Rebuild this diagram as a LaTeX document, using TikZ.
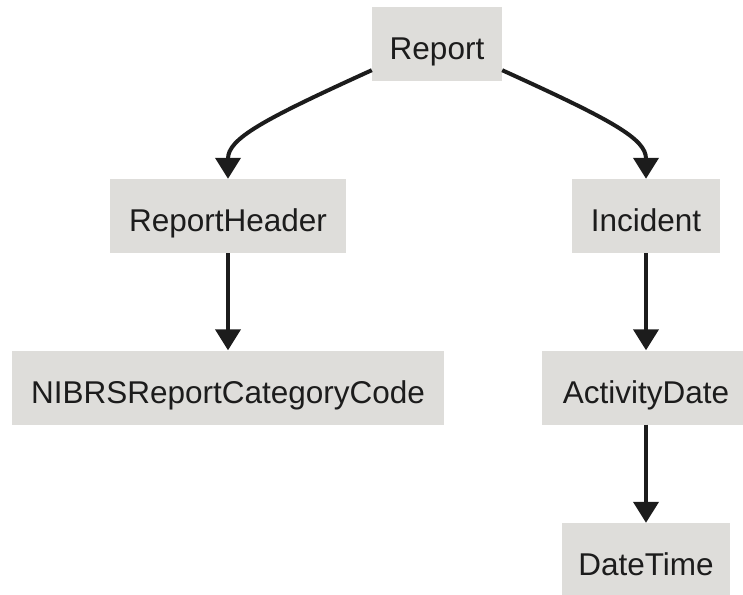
\documentclass[tikz,border=0pt]{standalone}
\usepackage{fontspec}
\setmainfont{Liberation Sans}
\usetikzlibrary{arrows.meta}
\definecolor{boxfill}{HTML}{DEDDDA}
\definecolor{edgecol}{HTML}{1C1C1C}
\begin{document}
\begin{tikzpicture}[x=1pt,y=-1pt,
  box/.style={fill=boxfill, inner sep=0pt, minimum height=74pt,
    text height=31pt, text depth=0pt,
    font=\fontsize{31.5}{36}\selectfont, text=edgecol},
  conn/.style={draw=edgecol, line width=4pt, -{Triangle[length=21pt,width=25pt]}}]
\useasboundingbox (0,0) rectangle (743,594);
\node[box,minimum width=130pt] (R) at (437,44) {Report};
\node[box,minimum width=236pt] (RH) at (228,216) {ReportHeader};
\node[box,minimum width=148pt] (I) at (646,216) {Incident};
\node[box,minimum width=432pt] (N) at (228,387.5) {NIBRSReportCategoryCode};
\node[box,minimum width=208pt] (A) at (646,387.5) {ActivityDate};
\node[box,minimum width=168pt] (D) at (646,560) {DateTime};
\coordinate (RL) at ([yshift=11pt]R.south west);
\coordinate (RR) at ([yshift=11pt]R.south east);
\draw[conn] (RL) .. controls +(-110,50) and +(0,-40) .. (RH.north);
\draw[conn] (RR) .. controls +(110,50) and +(0,-40) .. (I.north);
\draw[conn] (RH) -- (N);
\draw[conn] (I) -- (A);
\draw[conn] (A) -- (D);
\end{tikzpicture}
\end{document}
